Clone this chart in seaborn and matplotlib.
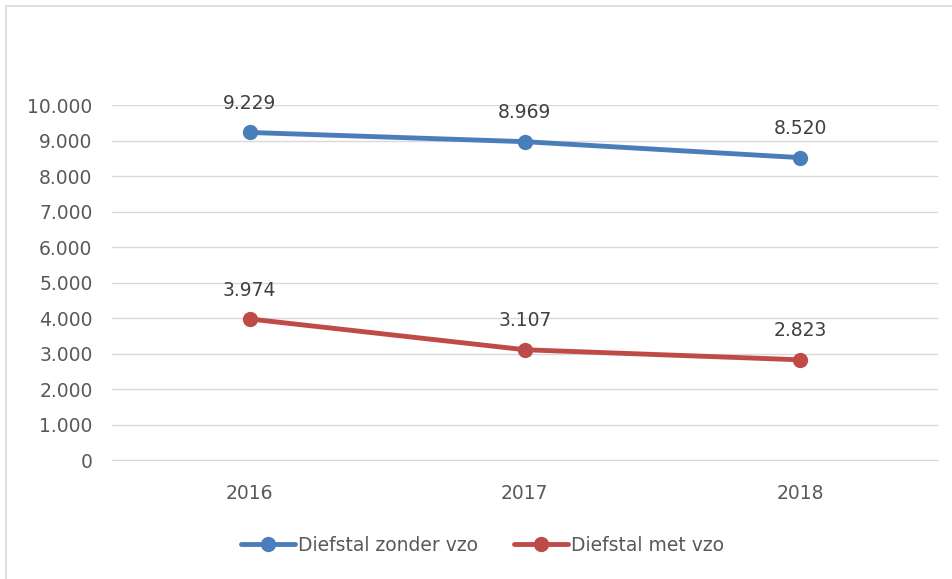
import matplotlib
matplotlib.use("Agg")
import matplotlib.pyplot as plt
import matplotlib.patches as mpatches
import pandas as pd
import seaborn as sns

# data
jaren = ["2016", "2017", "2018"]
zonder_vzo = [9229, 8969, 8520]
met_vzo = [3974, 3107, 2823]
reeksen = ["Diefstal zonder vzo", "Diefstal met vzo"]
kleuren = ["#4A7EBB", "#BE4B48"]

df = pd.DataFrame({
    "jaar": list(range(len(jaren))) * 2,
    "aantal": zonder_vzo + met_vzo,
    "reeks": [reeksen[0]] * 3 + [reeksen[1]] * 3,
})

sns.set_style("white")
plt.rcParams["font.family"] = ["DejaVu Sans"]
grijs = "#595959"
fs = 13.5

fig = plt.figure(figsize=(9.53, 5.79), dpi=100)
ax = fig.add_axes([0.1175, 0.2055, 0.8665, 0.613])

sns.lineplot(data=df, x="jaar", y="aantal", hue="reeks", palette=kleuren,
             marker="o", markersize=11, markeredgewidth=0, linewidth=3.5,
             ax=ax, legend=False)

# labels boven de punten
for vals in [zonder_vzo, met_vzo]:
    for i, v in enumerate(vals):
        ax.annotate(f"{v:,}".replace(",", "."), (i, v), xytext=(0, 14),
                    textcoords="offset points", ha="center", va="bottom",
                    fontsize=fs, color="#404040")

ax.set_xlim(-0.5, 2.5)
ax.set_ylim(0, 10000)
ax.set_yticks(range(0, 10001, 1000))
ax.set_yticklabels([f"{t:,}".replace(",", ".") for t in range(0, 10001, 1000)])
ax.set_xticks(range(len(jaren)))
ax.set_xticklabels(jaren)
ax.tick_params(axis="both", length=0, labelsize=fs, labelcolor=grijs)
ax.tick_params(axis="y", pad=14)
ax.tick_params(axis="x", pad=17)
ax.set_xlabel("")
ax.set_ylabel("")
ax.yaxis.grid(True, color="#D9D9D9", linewidth=1)
for s in ["top", "right", "left"]:
    ax.spines[s].set_visible(False)
ax.spines["bottom"].set_color("#D9D9D9")

# legenda
handles = [plt.Line2D([0], [0], color=c, linewidth=3.5, marker="o", markersize=11,
                      markeredgewidth=0) for c in kleuren]
fig.legend(handles, reeksen, loc="center", bbox_to_anchor=(0.506, 0.058), ncol=2,
           frameon=False, fontsize=fs, labelcolor=grijs, handlelength=2.9,
           handletextpad=0.15, columnspacing=1.9)

# kader rond de grafiek (rechts en onder buiten beeld)
fig.patches.append(mpatches.Rectangle((6 / 953, -0.1), 1.2, 1.1 - 6 / 579,
                                      transform=fig.transFigure, fill=False,
                                      edgecolor="#D9D9D9", linewidth=1.2))

fig.savefig("out.png", dpi=100)
